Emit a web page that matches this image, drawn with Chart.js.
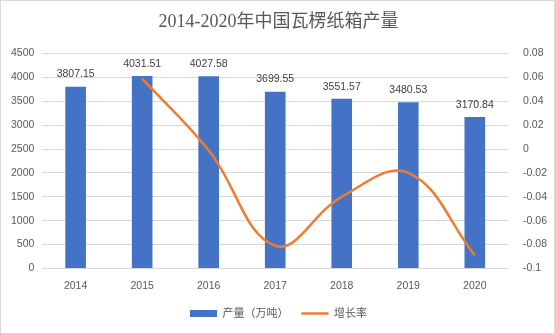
<!DOCTYPE html>
<html>
<head>
<meta charset="utf-8">
<script src="https://cdn.jsdelivr.net/npm/chart.js@4.4.1/dist/chart.umd.min.js"></script>
<style>
  html, body { margin: 0; padding: 0; background: #fff; }
  #wrap { position: relative; width: 553px; height: 332px; border: 1px solid #d9d9d9; }
</style>
</head>
<body>
<div id="wrap"><canvas id="boxChart"></canvas></div>
<script>
// 瓦楞纸箱产量 (万吨) 与增长率
const years = ['2014', '2015', '2016', '2017', '2018', '2019', '2020'];
const output = [3807.15, 4031.51, 4027.58, 3699.55, 3551.57, 3480.53, 3170.84];
const growth = [null, 0.059, -0.001, -0.081, -0.040, -0.020, -0.089];

const labelFont = '"Liberation Sans", "Noto Sans CJK SC", sans-serif';

// value labels above each bar
const barLabels = {
    id: 'barLabels',
    afterDatasetsDraw(chart) {
        const ctx = chart.ctx;
        const meta = chart.getDatasetMeta(1);
        ctx.save();
        ctx.font = '10.5px ' + labelFont;
        ctx.fillStyle = '#404040';
        ctx.textAlign = 'center';
        ctx.textBaseline = 'bottom';
        meta.data.forEach((bar, i) => {
            ctx.fillText(output[i].toFixed(2), bar.x, bar.y - 7);
        });
        ctx.restore();
    }
};

const ctx = document.getElementById('boxChart').getContext('2d');
new Chart(ctx, {
    data: {
        labels: years,
        datasets: [
            {
                type: 'line',
                label: '增长率',
                data: growth,
                yAxisID: 'y1',
                borderColor: '#ED7D31',
                backgroundColor: '#ED7D31',
                borderWidth: 2.5,
                tension: 0.4,
                pointRadius: 0,
                pointStyle: 'line',
                order: 0
            },
            {
                type: 'bar',
                label: '产量（万吨）',
                data: output,
                yAxisID: 'y',
                backgroundColor: '#4472C4',
                borderWidth: 0,
                pointStyle: 'rect',
                categoryPercentage: 1,
                barPercentage: 0.31,
                order: 1
            }
        ]
    },
    options: {
        responsive: true,
        maintainAspectRatio: false,
        animation: false,
        layout: { padding: { left: 2, right: 0, top: 4, bottom: 4 } },
        plugins: {
            title: {
                display: true,
                text: '2014-2020年中国瓦楞纸箱产量',
                color: '#595959',
                font: { family: '"Liberation Serif", "Noto Sans CJK SC", serif', size: 18, weight: 'normal' },
                padding: { top: 6, bottom: 21 }
            },
            legend: {
                position: 'bottom',
                reverse: true,
                labels: {
                    usePointStyle: true,
                    pointStyleWidth: 27,
                    boxHeight: 7,
                    color: '#595959',
                    font: { family: labelFont, size: 11 },
                    padding: 13
                }
            },
            tooltip: { enabled: false }
        },
        scales: {
            x: {
                grid: { display: false },
                border: { color: '#d9d9d9' },
                ticks: { color: '#595959', font: { family: labelFont, size: 10.5 }, padding: 3 }
            },
            y: {
                position: 'left',
                min: 0,
                max: 4500,
                ticks: {
                    stepSize: 500,
                    color: '#595959',
                    font: { family: labelFont, size: 10.5 },
                    padding: 8,
                    callback: v => String(v)
                },
                grid: { color: '#d9d9d9', drawTicks: false },
                border: { display: false }
            },
            y1: {
                position: 'right',
                min: -0.1,
                max: 0.08,
                ticks: {
                    stepSize: 0.02,
                    color: '#595959',
                    font: { family: labelFont, size: 10.5 },
                    padding: 7,
                    callback: v => String(Number(v.toFixed(2)))
                },
                grid: { display: false },
                border: { display: false }
            }
        }
    },
    plugins: [barLabels]
});
</script>
</body>
</html>
